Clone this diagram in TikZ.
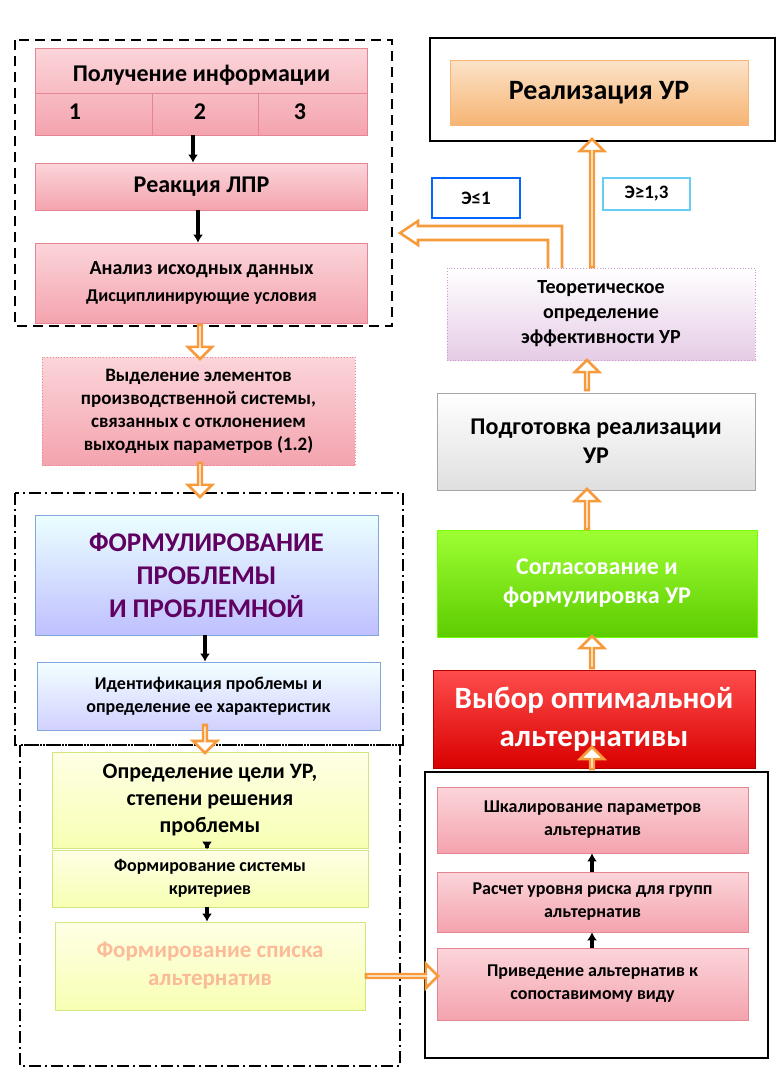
\documentclass[tikz,border=0pt]{standalone}
\usepackage{fontspec}
\setmainfont{Carlito}
\usetikzlibrary{shapes.arrows,arrows.meta}
\definecolor{pinkA}{HTML}{FBD5DA}\definecolor{pinkB}{HTML}{F4A3AE}\definecolor{pinkE}{HTML}{E68592}
\definecolor{orA}{HTML}{FBE3C8}\definecolor{orB}{HTML}{F7B474}
\definecolor{arr}{HTML}{F79A3C}
\begin{document}
\begin{tikzpicture}[x=0.5pt,y=-0.5pt,
 box/.style={draw=pinkE,top color=pinkA,bottom color=pinkB,align=center,font=\bfseries,inner sep=1pt},
 harrow/.style={single arrow,draw=arr,fill=white,line width=1.3pt,single arrow head extend=3.5pt,minimum width=12pt,inner sep=0pt,shape border rotate=0},
 barr/.style={-{Latex[length=4pt,width=5pt]},line width=1.8pt,black},
 frame/.style={line width=1.2pt}]
\useasboundingbox (0,0) rectangle (782,1083);
% frames
\draw[frame,dash pattern=on 5pt off 3pt] (15,40) rectangle (392,326);
\draw[frame,dash pattern=on 6pt off 2pt on 1pt off 2pt] (15,493) rectangle (403,745);
\draw[frame,dash pattern=on 6pt off 2pt on 1pt off 2pt] (20,745) rectangle (400,1066);
\draw[frame] (430,38) rectangle (775,141);
\draw[frame] (425,772) rectangle (768,1058);
% left column
\node[box,minimum width=166pt,minimum height=43.5pt] (info) at (201.5,91.5) {};
\draw[pinkE] (35,93)--(368,93) (152,93)--(152,135) (258,93)--(258,135);
\node[font=\bfseries\fontsize{12}{14}\selectfont] (t0) at (201.5,75) {Получение информации};
\node[font=\bfseries\fontsize{12}{14}\selectfont] (n1) at (75,112) {1};
\node[font=\bfseries\fontsize{12}{14}\selectfont] (n2) at (200,112) {2};
\node[font=\bfseries\fontsize{12}{14}\selectfont] (n3) at (300,112) {3};
\node[box,minimum width=166pt,minimum height=23.5pt,font=\bfseries\fontsize{12}{14}\selectfont] (lpr) at (201.5,186.5) {Реакция ЛПР};
\node[box,minimum width=166pt,minimum height=40pt,font=\bfseries\fontsize{10}{12.5}\selectfont] (an) at (201.5,283) {Анализ исходных данных\\[1pt]{\fontsize{9}{10}\selectfont Дисциплинирующие условия}};
\node[box,draw=pinkE,densely dotted,minimum width=156.5pt,minimum height=54pt,font=\bfseries\fontsize{9.5}{11.5}\selectfont] (vyd) at (198.5,411) {Выделение элементов\\производственной системы,\\связанных с отклонением\\выходных параметров (1.2)};
\node[draw=cyan!50!blue!50,top color=cyan!8,bottom color=blue!25,minimum width=171.5pt,minimum height=60pt,align=center,font=\bfseries\fontsize{13.5}{16.5}\selectfont,text=violet!75!black] (form) at (206.5,575) {ФОРМУЛИРОВАНИЕ\\ПРОБЛЕМЫ\\И ПРОБЛЕМНОЙ};
\node[draw=cyan!50!blue!50,top color=cyan!5,bottom color=blue!18,minimum width=171.5pt,minimum height=34pt,align=center,font=\bfseries\fontsize{9}{11.5}\selectfont] (id) at (208.5,696) {Идентификация проблемы и\\определение ее характеристик};
\node[draw=lime!60!olive!50,top color=lime!5!yellow!10,bottom color=lime!40!yellow!30,minimum width=158pt,minimum height=48pt,align=center,font=\bfseries\fontsize{11}{13.5}\selectfont] (cel) at (210,800) {Определение цели УР,\\степени решения\\проблемы};
\node[draw=lime!60!olive!50,top color=lime!5!yellow!10,bottom color=lime!40!yellow!30,minimum width=158pt,minimum height=28.5pt,align=center,font=\bfseries\fontsize{9}{11.5}\selectfont] (krit) at (210,878.5) {Формирование системы\\критериев};
\node[draw=lime!60!olive!50,top color=lime!5!yellow!10,bottom color=lime!40!yellow!30,minimum width=155pt,minimum height=44pt,align=center,font=\bfseries\fontsize{11.5}{14}\selectfont,text=pinkA!70!orange] (sp) at (210,966) {Формирование списка\\альтернатив};
% right column
\node[draw=orB,top color=orA,bottom color=orB,minimum width=149pt,minimum height=32.5pt,font=\bfseries\fontsize{14}{16}\selectfont] (real) at (599,92.5) {Реализация УР};
\node[draw=blue!60!cyan,line width=1.3pt,minimum width=44pt,minimum height=20pt,font=\bfseries\fontsize{9.5}{11}\selectfont] (e1) at (476,198) {Э≤1};
\node[draw=cyan!60,line width=1.3pt,minimum width=43.5pt,minimum height=16pt,font=\bfseries\fontsize{9.5}{11}\selectfont] (e2) at (646.5,194) {Э≥1,3};
\node[draw=violet!40,densely dotted,top color=white,bottom color=violet!20,minimum width=154pt,minimum height=46pt,align=center,font=\bfseries\fontsize{10}{12.5}\selectfont] (teor) at (601,314) {Теоретическое\\определение\\эффективности УР};
\node[draw=gray!70,top color=white,bottom color=gray!25,minimum width=159pt,minimum height=48.5pt,align=center,font=\bfseries\fontsize{12}{14.5}\selectfont] (pod) at (596,441.5) {Подготовка реализации\\УР};
\node[draw=lime!60!green,top color=lime!70!green!80,bottom color=lime!60!green!80!black,minimum width=160pt,minimum height=53.5pt,align=center,text=white,font=\bfseries\fontsize{12}{14.5}\selectfont] (sog) at (597,583.5) {Согласование и\\формулировка УР};
\node[draw=red!70!black,top color=red!70,bottom color=red!85!black,minimum width=161pt,minimum height=49pt,align=center,text=white,font=\bfseries\fontsize{15.5}{19}\selectfont] (vyb) at (594,719) {Выбор оптимальной\\альтернативы};
\node[box,minimum width=155.5pt,minimum height=33pt,font=\bfseries\fontsize{9}{11.5}\selectfont] (sh) at (592.5,820) {Шкалирование параметров\\альтернатив};
\node[box,minimum width=155.5pt,minimum height=30pt,font=\bfseries\fontsize{9}{11.5}\selectfont] (ras) at (592.5,902) {Расчет уровня риска для групп\\альтернатив};
\node[box,minimum width=155.5pt,minimum height=36pt,font=\bfseries\fontsize{9}{11.5}\selectfont] (pri) at (592.5,984) {Приведение альтернатив к\\сопоставимому виду};
% black arrows
\draw[barr] (info.south -| 193,0) -- (lpr.north -| 193,0);
\draw[barr] (lpr.south -| 198,0) -- (an.north -| 198,0);
\draw[barr] (form.south -| 205,0) -- (id.north -| 205,0);
\draw[barr] (cel.south -| 207,0) -- (krit.north -| 207,0);
\draw[barr] (krit.south -| 207,0) -- (sp.north -| 207,0);
\draw[barr] (pri.north -| 592,0) -- (ras.south -| 592,0);
\draw[barr] (ras.north -| 592,0) -- (sh.south -| 592,0);
% hollow arrows
\node[harrow,rotate=-90,minimum height=17pt] (a1) at (200,341) {};
\node[harrow,rotate=-90,minimum height=17pt] (a2) at (200,479) {};
\node[harrow,rotate=-90,minimum height=14pt] (a3) at (205,738) {};
\node[harrow,minimum height=36pt] (a4) at (401,976) {};
\node[harrow,rotate=90,minimum height=11pt] (a5) at (592,759) {};
\node[harrow,rotate=90,minimum height=16pt] (a6) at (592,653) {};
\node[harrow,rotate=90,minimum height=20pt] (a7) at (587,510) {};
\node[harrow,rotate=90,minimum height=15pt] (a8) at (587,376) {};
\node[harrow,rotate=90,minimum height=64pt] (a9) at (592,204) {};
\draw[arr,line width=1.3pt,fill=white] (562,268) -- (562,226) -- (418,226) -- (418,221) -- (400,233) -- (418,245) -- (418,240) -- (548,240) -- (548,268);
\end{tikzpicture}
\end{document}
